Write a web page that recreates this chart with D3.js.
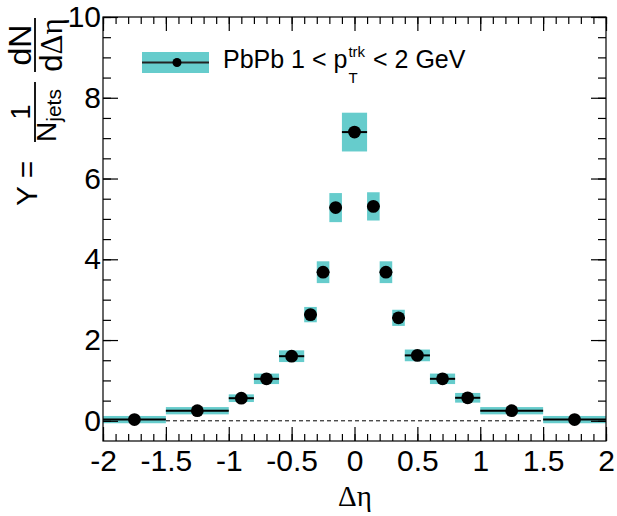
<!DOCTYPE html>
<html><head><meta charset="utf-8">
<script src="https://cdn.jsdelivr.net/npm/d3@7"></script>
<style>
html,body{margin:0;padding:0;background:#fff;}
svg{display:block;}
text{font-family:"Liberation Sans",Arial,Helvetica,sans-serif;fill:#000;}
.greek{font-family:"Liberation Serif","Times New Roman",serif;}
</style></head>
<body>
<svg id="c" width="617" height="516"></svg>
<script>
// ---- data ----
const binLow  = [-2.0,-1.5,-1.0,-0.8,-0.6,-0.4,-0.3,-0.2,-0.1, 0.1, 0.2, 0.3, 0.4, 0.6, 0.8, 1.0, 1.5];
const binHigh = [-1.5,-1.0,-0.8,-0.6,-0.4,-0.3,-0.2,-0.1, 0.1, 0.2, 0.3, 0.4, 0.6, 0.8, 1.0, 1.5, 2.0];
const yValues = [0.03, 0.25, 0.56, 1.04, 1.60, 2.63, 3.68, 5.28, 7.15, 5.31, 3.68, 2.55, 1.62, 1.04, 0.57, 0.25, 0.03];
const ySyst   = [0.09, 0.09, 0.095,0.13, 0.145,0.19, 0.27, 0.36, 0.48, 0.35, 0.27, 0.20, 0.145,0.13, 0.12, 0.09, 0.09];
const xMajorTicks = [-2,-1.5,-1,-0.5,0,0.5,1,1.5,2];
const xTickLabels = ["-2","-1.5","-1","-0.5","0","0.5","1","1.5","2"];
const yMajorTicks = [0,2,4,6,8,10];
const yTickLabels = ["0","2","4","6","8","10"];
const legendLabel = {pre:"PbPb 1 < p", sup:"trk", sub:"T", post:" < 2 GeV"};

const teal = "#66cccc";
const L=103, R=606, T=17, B=441;
const svg = d3.select("#c");
const x = d3.scaleLinear().domain([-2,2]).range([L,R]);
const y = d3.scaleLinear().domain([-0.5,10]).range([B,T]);

const data = binLow.map((lo,i)=>({lo, hi:binHigh[i], c:(lo+binHigh[i])/2, v:yValues[i], s:ySyst[i]}));

// dashed zero line
svg.append("line").attr("x1",x(-2)).attr("x2",x(2)).attr("y1",y(0)).attr("y2",y(0))
  .attr("stroke","#000").attr("stroke-width",1).attr("stroke-dasharray","4,3");

// syst boxes
svg.append("g").selectAll("rect").data(data).join("rect")
  .attr("x",d=>x(d.lo)).attr("width",d=>x(d.hi)-x(d.lo))
  .attr("y",d=>y(d.v+d.s)).attr("height",d=>y(d.v-d.s)-y(d.v+d.s))
  .attr("fill",teal);

// horizontal error bars
svg.append("g").selectAll("line").data(data).join("line")
  .attr("x1",d=>x(d.lo)).attr("x2",d=>x(d.hi)).attr("y1",d=>y(d.v)).attr("y2",d=>y(d.v))
  .attr("stroke","#000").attr("stroke-width",2);

// markers
svg.append("g").selectAll("circle").data(data).join("circle")
  .attr("cx",d=>x(d.c)).attr("cy",d=>y(d.v)).attr("r",6.4).attr("fill","#000");

// axes (ticks inward)
const xMinor = d3.range(-20,21).map(i=>i/10);
const yMinor = d3.range(-1,21).map(i=>i/2);
function styleAxis(g){ g.select(".domain").remove(); g.selectAll("line").attr("stroke","#000").attr("stroke-width",1.2); }

svg.append("g").attr("transform",`translate(0,${B})`)
  .call(d3.axisBottom(x).tickValues(xMinor).tickSize(-7).tickFormat("")).call(styleAxis);
svg.append("g").attr("transform",`translate(0,${B})`)
  .call(d3.axisBottom(x).tickValues(xMajorTicks).tickSize(-14).tickPadding(9).tickFormat((d,i)=>xTickLabels[i]))
  .call(styleAxis)
  .call(g=>g.selectAll("text").attr("font-size",30).attr("font-family","Liberation Sans, Arial, sans-serif").attr("fill","#000"));
svg.append("g").attr("transform",`translate(0,${T})`)
  .call(d3.axisTop(x).tickValues(xMinor).tickSize(-7).tickFormat("")).call(styleAxis);
svg.append("g").attr("transform",`translate(0,${T})`)
  .call(d3.axisTop(x).tickValues(xMajorTicks).tickSize(-14).tickFormat("")).call(styleAxis);

svg.append("g").attr("transform",`translate(${L},0)`)
  .call(d3.axisLeft(y).tickValues(yMinor.filter(v=>v>-0.5)).tickSize(-8).tickFormat("")).call(styleAxis);
svg.append("g").attr("transform",`translate(${L},0)`)
  .call(d3.axisLeft(y).tickValues(yMajorTicks).tickSize(-15).tickPadding(2).tickFormat((d,i)=>yTickLabels[i]))
  .call(styleAxis)
  .call(g=>g.selectAll("text").attr("font-size",30).attr("font-family","Liberation Sans, Arial, sans-serif").attr("fill","#000"));
svg.append("g").attr("transform",`translate(${R},0)`)
  .call(d3.axisRight(y).tickValues(yMinor.filter(v=>v>-0.5)).tickSize(-8).tickFormat("")).call(styleAxis);
svg.append("g").attr("transform",`translate(${R},0)`)
  .call(d3.axisRight(y).tickValues(yMajorTicks).tickSize(-15).tickFormat("")).call(styleAxis);

// frame
svg.append("rect").attr("x",L).attr("y",T).attr("width",R-L).attr("height",B-T)
  .attr("fill","none").attr("stroke","#000").attr("stroke-width",1.2);

// x title
svg.append("text").attr("class","greek").attr("x",355).attr("y",506).attr("text-anchor","middle")
  .attr("font-size",29).text("Δη");

// y title
const yt = svg.append("g").attr("transform","translate(35,220) rotate(-90)");
yt.append("text").attr("x",14).attr("y",2).attr("font-size",30).style("white-space","pre").text("Y =");
yt.append("line").attr("x1",78).attr("x2",138).attr("y1",0).attr("y2",0).attr("stroke","#000").attr("stroke-width",1.8);
yt.append("text").attr("x",108).attr("y",-5).attr("text-anchor","middle").attr("font-size",27).text("1");
const den1 = yt.append("text").attr("x",78).attr("y",21).attr("font-size",28);
den1.append("tspan").text("N");
den1.append("tspan").attr("font-size",21).attr("dy",5).text("jets");
yt.append("line").attr("x1",148).attr("x2",202).attr("y1",0).attr("y2",0).attr("stroke","#000").attr("stroke-width",1.8);
yt.append("text").attr("x",175).attr("y",-4).attr("text-anchor","middle").attr("font-size",32).text("dN");
const den2 = yt.append("text").attr("x",175).attr("y",27).attr("text-anchor","middle").attr("font-size",31);
den2.append("tspan").text("d");
den2.append("tspan").attr("class","greek").text("Δη");

// legend
svg.append("rect").attr("x",142).attr("y",52).attr("width",67).attr("height",21).attr("fill",teal);
svg.append("line").attr("x1",142).attr("x2",209).attr("y1",62.5).attr("y2",62.5).attr("stroke","#222").attr("stroke-width",2);
svg.append("circle").attr("cx",177).attr("cy",62.5).attr("r",4.5).attr("fill","#000");
const t1 = svg.append("text").attr("x",223).attr("y",68).attr("font-size",25).text(legendLabel.pre);
const w1 = t1.node().getComputedTextLength();
const xs = 223 + w1 + 1;
const tsup = svg.append("text").attr("x",xs).attr("y",57).attr("font-size",15).text(legendLabel.sup);
svg.append("text").attr("x",xs).attr("y",83).attr("font-size",15).text(legendLabel.sub);
const ws = tsup.node().getComputedTextLength();
svg.append("text").attr("x",xs+ws+1).attr("y",68).attr("font-size",25).style("white-space","pre").text(legendLabel.post);
</script>
</body></html>
